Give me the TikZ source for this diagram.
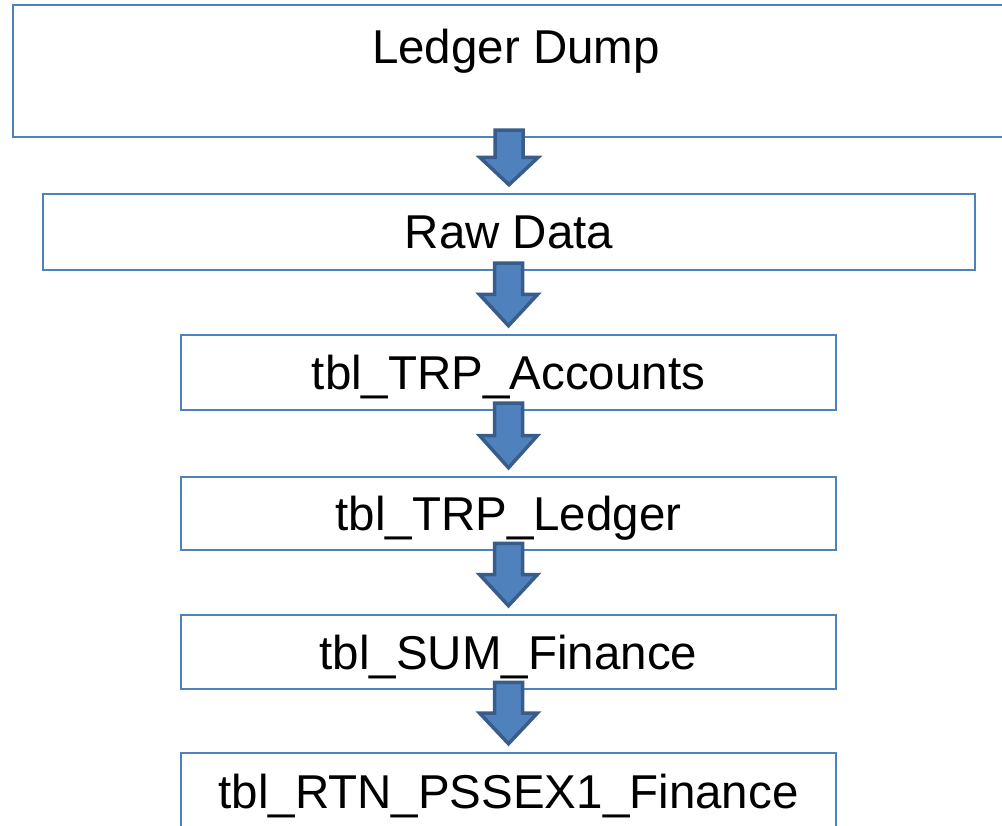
\documentclass[tikz,border=0pt]{standalone}
\usepackage{fontspec}
\setmainfont{Liberation Sans}
\usetikzlibrary{calc}

\definecolor{boxblue}{RGB}{79,129,189}
\definecolor{arrowedge}{RGB}{56,93,138}

\tikzset{
  flowbox/.style={draw=boxblue, line width=2.5pt, fill=white, rectangle, inner sep=0pt,
    font=\fontsize{47.5}{57}\selectfont, text height=34pt, text depth=0pt},
  boxtext/.style={inner sep=0pt, font=\fontsize{47.5}{57}\selectfont, text height=34pt, text depth=0pt},
  blockarrow/.style={fill=boxblue, draw=arrowedge, line width=3.5pt, line join=miter}
}

% block arrow from bottom of #1 to top of #2
\newcommand{\flowarrow}[2]{%
  \draw[blockarrow] let \p1=(#1.south), \p2=(#2.north) in
    (\x2-14pt,\y1+8pt) -- (\x2+14pt,\y1+8pt) -- (\x2+14pt,{(\y1+\y2)/2+8pt})
    -- (\x2+29pt,{(\y1+\y2)/2+8pt}) -- (\x2,\y2+8pt)
    -- (\x2-29pt,{(\y1+\y2)/2+8pt}) -- (\x2-14pt,{(\y1+\y2)/2+8pt}) -- cycle;
}

\begin{document}
\begin{tikzpicture}[x=1pt, y=-1pt]
  \clip (0,0) rectangle (1002,826);

  % Boxes
  \node[flowbox, minimum width=1002, minimum height=132] (dump) at (514,71) {};
  \node[boxtext] (dumptext) at (516,47) {Ledger Dump};
  \node[flowbox, minimum width=932, minimum height=76] (raw) at (509,232) {Raw Data};
  \node[flowbox, minimum width=655, minimum height=75] (accounts) at (508.5,372.5) {tbl\_TRP\_Accounts};
  \node[flowbox, minimum width=655, minimum height=73] (ledger) at (508.5,513.5) {tbl\_TRP\_Ledger};
  \node[flowbox, minimum width=655, minimum height=74] (sum) at (508.5,652) {tbl\_SUM\_Finance};
  \node[flowbox, minimum width=655, minimum height=76] (rtn) at (508.5,791) {tbl\_RTN\_PSSEX1\_Finance};

  % Arrows
  \flowarrow{dump}{raw}
  \flowarrow{raw}{accounts}
  \flowarrow{accounts}{ledger}
  \flowarrow{ledger}{sum}
  \flowarrow{sum}{rtn}
\end{tikzpicture}
\end{document}
